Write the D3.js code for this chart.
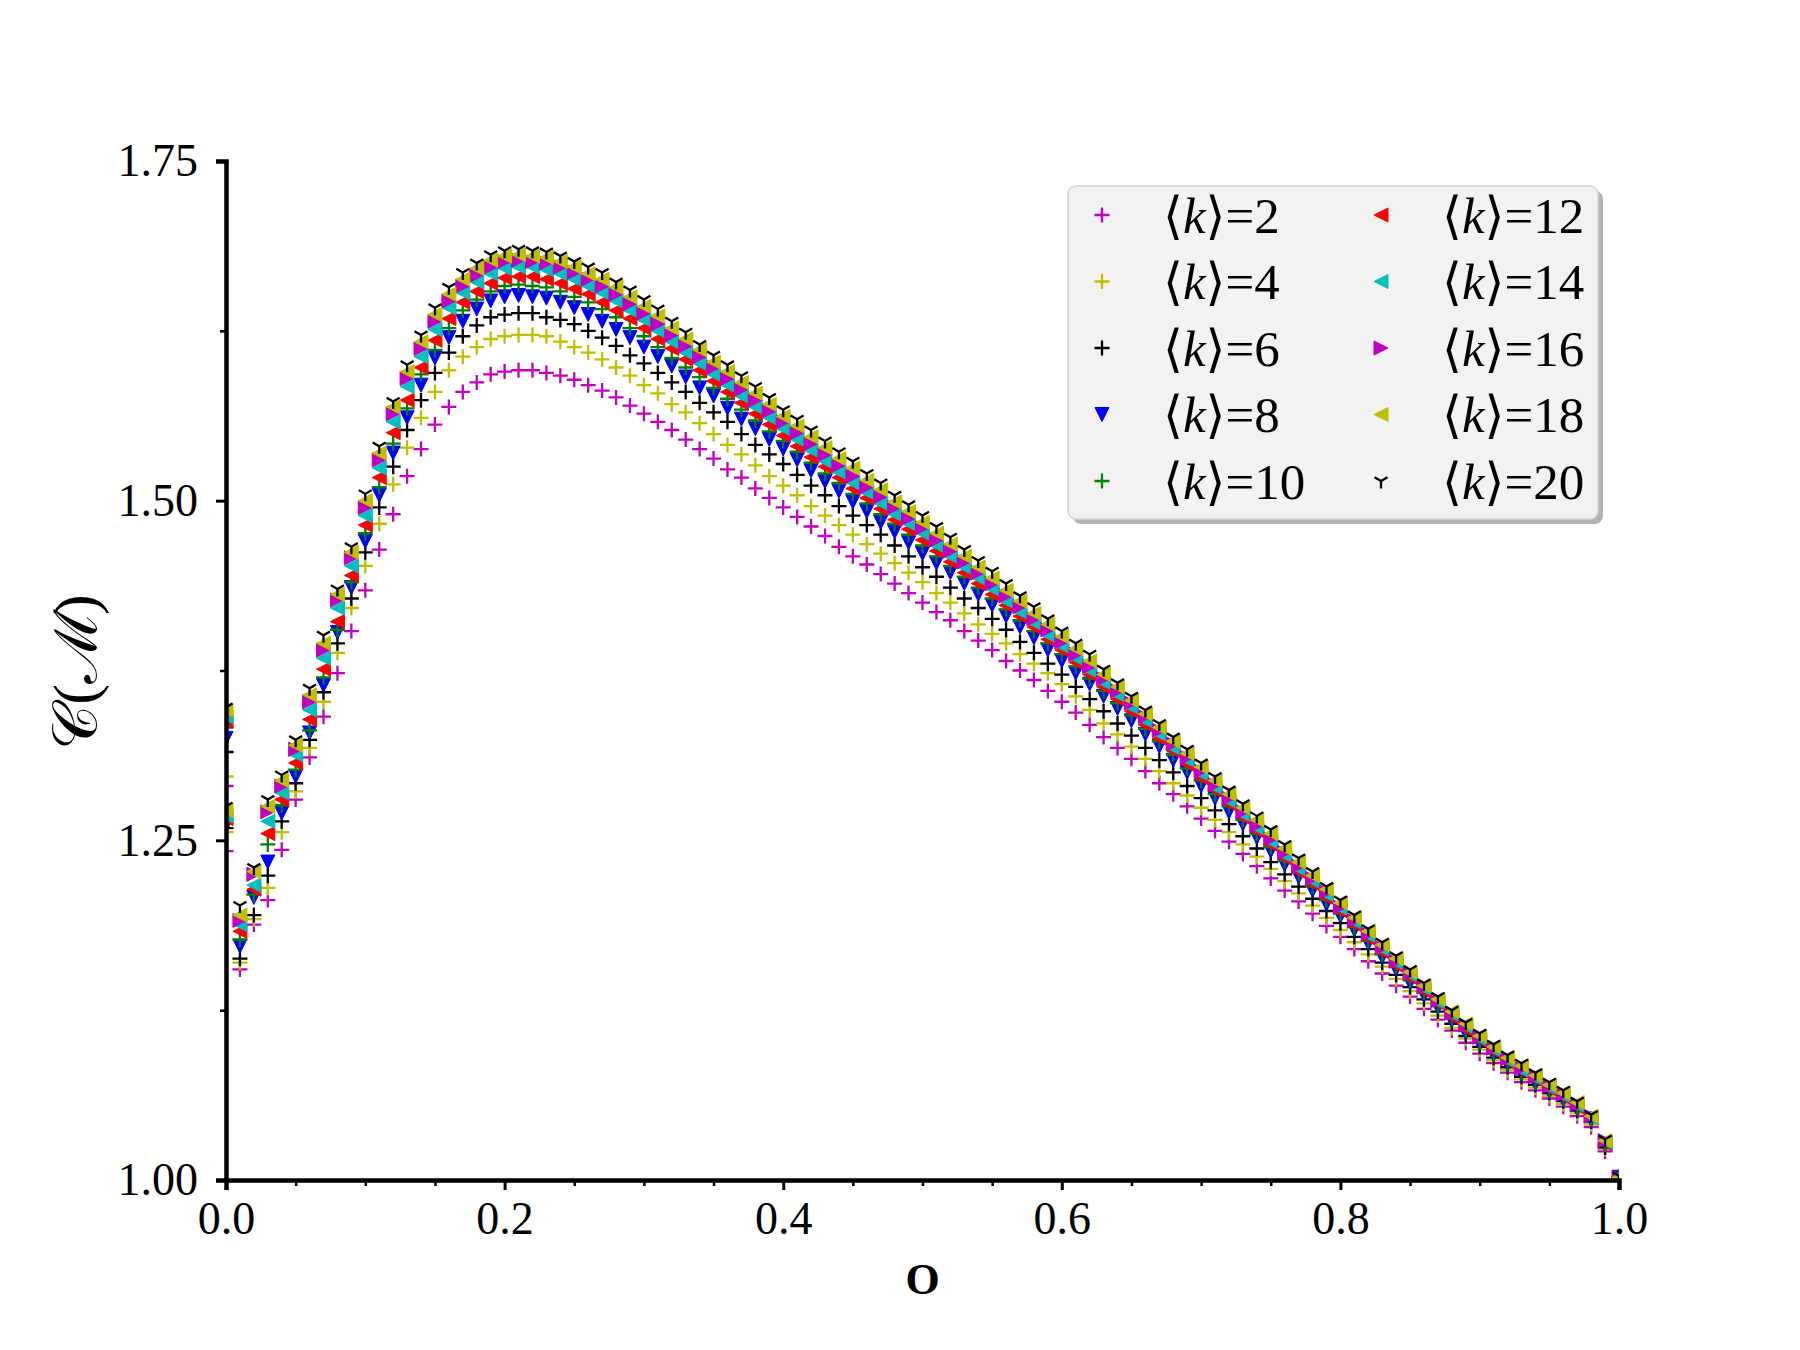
<!DOCTYPE html>
<html>
<head>
<meta charset="utf-8">
<script src="https://cdnjs.cloudflare.com/ajax/libs/d3/7.8.5/d3.min.js"></script>
<style>
body{margin:0;background:#fff;}
svg{display:block;}
text{font-family:"Liberation Serif","DejaVu Serif",serif;fill:#000;}
</style>
</head>
<body>
<script>
// two readings sit on o=0, then one every 0.01
var xs = [0,0,
  0.01,0.02,0.03,0.04,0.05,0.06,0.07,0.08,0.09,0.10,
  0.11,0.12,0.13,0.14,0.15,0.16,0.17,0.18,0.19,0.20,
  0.21,0.22,0.23,0.24,0.25,0.26,0.27,0.28,0.29,0.30,
  0.31,0.32,0.33,0.34,0.35,0.36,0.37,0.38,0.39,0.40,
  0.41,0.42,0.43,0.44,0.45,0.46,0.47,0.48,0.49,0.50,
  0.51,0.52,0.53,0.54,0.55,0.56,0.57,0.58,0.59,0.60,
  0.61,0.62,0.63,0.64,0.65,0.66,0.67,0.68,0.69,0.70,
  0.71,0.72,0.73,0.74,0.75,0.76,0.77,0.78,0.79,0.80,
  0.81,0.82,0.83,0.84,0.85,0.86,0.87,0.88,0.89,0.90,
  0.91,0.92,0.93,0.94,0.95,0.96,0.97,0.98,0.99,1.00];

var k2 = [1.290,1.242,
  1.155,1.188,1.206,1.243,1.280,1.311,1.341,1.373,1.404,1.434,
  1.464,1.490,1.518,1.538,1.556,1.569,1.580,1.587,1.593,1.595,
  1.596,1.596,1.594,1.592,1.589,1.585,1.581,1.576,1.570,1.564,
  1.558,1.552,1.545,1.538,1.531,1.523,1.517,1.509,1.502,1.495,
  1.488,1.481,1.474,1.466,1.459,1.453,1.446,1.439,1.432,1.425,
  1.418,1.412,1.404,1.397,1.390,1.382,1.375,1.368,1.360,1.352,
  1.344,1.335,1.326,1.318,1.310,1.301,1.292,1.284,1.275,1.266,
  1.257,1.249,1.240,1.231,1.222,1.213,1.205,1.196,1.187,1.179,
  1.170,1.161,1.152,1.143,1.135,1.126,1.118,1.110,1.101,1.093,
  1.086,1.079,1.072,1.066,1.060,1.054,1.047,1.039,1.021,1.001];

var k4 = [1.297,1.256,
  1.160,1.192,1.215,1.256,1.286,1.318,1.352,1.388,1.421,1.452,
  1.483,1.512,1.539,1.561,1.580,1.596,1.606,1.613,1.619,1.621,
  1.622,1.622,1.621,1.617,1.613,1.609,1.604,1.598,1.592,1.585,
  1.579,1.571,1.565,1.557,1.549,1.541,1.534,1.526,1.518,1.511,
  1.504,1.496,1.489,1.482,1.475,1.468,1.461,1.454,1.447,1.440,
  1.432,1.425,1.417,1.409,1.402,1.395,1.387,1.380,1.373,1.365,
  1.356,1.346,1.336,1.328,1.319,1.310,1.301,1.292,1.283,1.274,
  1.265,1.256,1.247,1.238,1.229,1.220,1.211,1.202,1.193,1.184,
  1.175,1.166,1.157,1.148,1.139,1.130,1.121,1.112,1.104,1.096,
  1.088,1.081,1.074,1.068,1.062,1.056,1.049,1.041,1.023,1.002];

var k6 = [1.315,1.259,
  1.163,1.195,1.224,1.264,1.292,1.324,1.359,1.395,1.428,1.462,
  1.495,1.525,1.552,1.574,1.594,1.609,1.621,1.629,1.635,1.637,
  1.638,1.638,1.635,1.633,1.630,1.625,1.620,1.614,1.607,1.601,
  1.594,1.587,1.580,1.572,1.565,1.558,1.549,1.541,1.534,1.527,
  1.519,1.511,1.504,1.496,1.489,1.482,1.475,1.467,1.459,1.451,
  1.444,1.436,1.428,1.421,1.413,1.405,1.396,1.388,1.380,1.372,
  1.363,1.354,1.345,1.336,1.327,1.318,1.309,1.300,1.290,1.281,
  1.272,1.262,1.253,1.244,1.234,1.225,1.216,1.207,1.198,1.189,
  1.179,1.170,1.160,1.151,1.142,1.133,1.124,1.115,1.106,1.098,
  1.090,1.083,1.076,1.070,1.064,1.058,1.051,1.043,1.024,1.002];

var k8 = [1.325,1.261,
  1.172,1.208,1.234,1.270,1.297,1.329,1.364,1.403,1.436,1.470,
  1.504,1.535,1.561,1.585,1.605,1.620,1.632,1.641,1.647,1.650,
  1.651,1.650,1.649,1.646,1.642,1.637,1.632,1.626,1.620,1.613,
  1.606,1.599,1.591,1.583,1.577,1.568,1.560,1.553,1.545,1.538,
  1.530,1.522,1.514,1.507,1.499,1.492,1.484,1.477,1.469,1.461,
  1.454,1.447,1.439,1.431,1.423,1.415,1.407,1.399,1.390,1.382,
  1.373,1.365,1.356,1.347,1.338,1.328,1.319,1.309,1.300,1.290,
  1.281,1.271,1.262,1.252,1.242,1.232,1.223,1.213,1.203,1.194,
  1.184,1.174,1.164,1.155,1.145,1.136,1.127,1.117,1.108,1.100,
  1.092,1.085,1.078,1.071,1.065,1.059,1.052,1.044,1.026,1.002];

var k10 = [1.333,1.263,
  1.177,1.210,1.247,1.276,1.302,1.331,1.370,1.405,1.440,1.476,
  1.510,1.542,1.568,1.593,1.611,1.627,1.640,1.648,1.654,1.658,
  1.659,1.658,1.657,1.654,1.650,1.646,1.641,1.635,1.627,1.621,
  1.613,1.605,1.598,1.591,1.583,1.575,1.567,1.559,1.551,1.544,
  1.536,1.528,1.520,1.513,1.505,1.498,1.490,1.483,1.475,1.467,
  1.459,1.452,1.444,1.436,1.428,1.420,1.412,1.404,1.395,1.387,
  1.378,1.369,1.360,1.351,1.342,1.332,1.323,1.313,1.303,1.294,
  1.284,1.275,1.265,1.255,1.245,1.235,1.226,1.216,1.206,1.196,
  1.186,1.176,1.166,1.157,1.147,1.138,1.128,1.119,1.110,1.101,
  1.093,1.086,1.079,1.072,1.066,1.060,1.053,1.045,1.026,1.002];

var k12 = [1.338,1.266,
  1.183,1.214,1.255,1.280,1.307,1.339,1.376,1.411,1.445,1.482,
  1.517,1.550,1.574,1.598,1.618,1.634,1.646,1.654,1.660,1.664,
  1.665,1.665,1.663,1.660,1.656,1.652,1.646,1.640,1.634,1.627,
  1.619,1.612,1.604,1.596,1.588,1.580,1.572,1.564,1.556,1.548,
  1.540,1.532,1.525,1.517,1.509,1.502,1.494,1.486,1.479,1.471,
  1.463,1.455,1.447,1.439,1.431,1.423,1.415,1.407,1.398,1.390,
  1.381,1.372,1.363,1.354,1.345,1.335,1.325,1.316,1.306,1.296,
  1.287,1.277,1.267,1.257,1.247,1.237,1.227,1.218,1.208,1.198,
  1.188,1.178,1.168,1.158,1.149,1.139,1.130,1.120,1.111,1.103,
  1.095,1.087,1.080,1.074,1.067,1.061,1.054,1.046,1.027,1.002];

var k14 = [1.341,1.268,
  1.188,1.217,1.264,1.285,1.313,1.346,1.384,1.421,1.452,1.489,
  1.524,1.558,1.584,1.606,1.626,1.642,1.653,1.661,1.667,1.671,
  1.672,1.672,1.670,1.667,1.663,1.658,1.653,1.647,1.640,1.633,
  1.625,1.617,1.609,1.601,1.593,1.585,1.577,1.569,1.561,1.553,
  1.545,1.537,1.529,1.521,1.513,1.506,1.498,1.490,1.483,1.476,
  1.467,1.459,1.451,1.443,1.435,1.426,1.418,1.410,1.401,1.393,
  1.384,1.375,1.366,1.357,1.348,1.338,1.328,1.318,1.309,1.299,
  1.289,1.279,1.269,1.259,1.249,1.239,1.229,1.220,1.210,1.200,
  1.190,1.180,1.170,1.160,1.151,1.141,1.131,1.122,1.113,1.104,
  1.096,1.088,1.081,1.075,1.068,1.062,1.055,1.046,1.028,1.002];

var k16 = [1.344,1.270,
  1.191,1.225,1.271,1.290,1.317,1.352,1.390,1.427,1.458,1.495,
  1.530,1.564,1.590,1.612,1.632,1.647,1.658,1.666,1.672,1.676,
  1.677,1.676,1.675,1.672,1.668,1.663,1.658,1.652,1.645,1.638,
  1.630,1.622,1.614,1.606,1.598,1.590,1.582,1.574,1.566,1.558,
  1.550,1.542,1.534,1.526,1.518,1.510,1.503,1.495,1.487,1.480,
  1.471,1.463,1.455,1.447,1.439,1.430,1.422,1.413,1.405,1.396,
  1.387,1.378,1.369,1.360,1.351,1.341,1.331,1.321,1.311,1.301,
  1.291,1.281,1.271,1.261,1.251,1.241,1.231,1.222,1.212,1.201,
  1.191,1.181,1.171,1.161,1.152,1.142,1.132,1.123,1.114,1.105,
  1.097,1.089,1.082,1.076,1.069,1.063,1.056,1.047,1.029,1.002];

var k18 = [1.346,1.272,
  1.195,1.227,1.275,1.294,1.320,1.357,1.395,1.431,1.462,1.500,
  1.535,1.569,1.595,1.617,1.637,1.652,1.663,1.671,1.677,1.680,
  1.681,1.680,1.679,1.676,1.672,1.667,1.663,1.657,1.650,1.643,
  1.636,1.627,1.619,1.611,1.602,1.595,1.587,1.579,1.571,1.562,
  1.555,1.547,1.539,1.531,1.524,1.515,1.508,1.499,1.492,1.484,
  1.476,1.468,1.459,1.451,1.443,1.434,1.426,1.417,1.409,1.400,
  1.391,1.382,1.372,1.363,1.353,1.343,1.333,1.323,1.314,1.304,
  1.294,1.284,1.274,1.265,1.255,1.244,1.234,1.224,1.214,1.204,
  1.193,1.183,1.173,1.163,1.153,1.143,1.133,1.124,1.115,1.106,
  1.098,1.090,1.084,1.077,1.070,1.064,1.057,1.047,1.029,1.002];

var k20 = [1.348,1.275,
  1.202,1.230,1.280,1.298,1.324,1.362,1.401,1.435,1.466,1.505,
  1.540,1.573,1.600,1.622,1.642,1.657,1.668,1.675,1.681,1.684,
  1.685,1.684,1.683,1.680,1.676,1.672,1.668,1.661,1.655,1.648,
  1.641,1.632,1.624,1.615,1.607,1.600,1.592,1.584,1.576,1.567,
  1.560,1.552,1.544,1.536,1.529,1.520,1.513,1.504,1.497,1.489,
  1.481,1.473,1.464,1.456,1.448,1.439,1.430,1.422,1.413,1.404,
  1.395,1.387,1.376,1.366,1.356,1.346,1.336,1.326,1.317,1.307,
  1.297,1.287,1.277,1.268,1.258,1.247,1.237,1.227,1.216,1.206,
  1.195,1.185,1.175,1.165,1.155,1.145,1.135,1.125,1.116,1.108,
  1.100,1.092,1.086,1.079,1.072,1.066,1.058,1.048,1.030,1.003];

var kLabels = ['2','4','6','8','10','12','14','16','18','20'];
var colors = ['#bf00bf','#bfbf00','#000000','#0000ff','#008000','#ff0000','#00bfbf','#bf00bf','#bfbf00','#000000'];
var markers = ['plus','plus','plus','tv','plus','tl','tl','tr','tl','tri'];

var xTicks = [0,0.2,0.4,0.6,0.8,1.0];
var xMinor = [0.05,0.1,0.15,0.25,0.3,0.35,0.45,0.5,0.55,0.65,0.7,0.75,0.85,0.9,0.95];
var yTicks = [1.00,1.25,1.50,1.75];
var yMinor = [1.125,1.375,1.625];

var chart = {
  W: 1800, H: 1350,
  left: 226, right: 1619, top: 161, bottom: 1180,
  components: {},
  shapes: {
    plus: 'M-7.5,0H7.5M0,-7.5V7.5',
    tri: 'M0,0V7.5M0,0L-6.5,-3.75M0,0L6.5,-3.75',
    tv: 'M0,7L-7,-7L7,-7Z',
    tl: 'M-7,0L7,-7L7,7Z',
    tr: 'M7,0L-7,-7L-7,7Z'
  },
  series: function(){
    var vals = [k2,k4,k6,k8,k10,k12,k14,k16,k18,k20];
    return vals.map(function(v,i){
      return {
        label: kLabels[i], color: colors[i], marker: markers[i],
        points: xs.map(function(x,j){ return {x:x, y:v[j]}; })
      };
    });
  },
  styleMarker: function(sel, d){
    var filled = (d.marker!='plus' && d.marker!='tri');
    sel.attr('d', this.shapes[d.marker])
      .attr('fill', filled ? d.color : 'none')
      .attr('stroke', d.color)
      .attr('stroke-width', filled ? 1 : 2.3);
  },
  build: function(){
    this.x = d3.scaleLinear().domain([0,1]).range([this.left,this.right]);
    this.y = d3.scaleLinear().domain([1,1.75]).range([this.bottom,this.top]);
    var svg = d3.select('body').append('svg').attr('width',this.W).attr('height',this.H);
    svg.append('rect').attr('width',this.W).attr('height',this.H).attr('fill','#fff');
    svg.append('defs').append('clipPath').attr('id','plotClip')
      .append('rect').attr('x',this.left).attr('y',this.top)
      .attr('width',this.right-this.left).attr('height',this.bottom-this.top);
    this.components.svg = svg;
  },
  drawPoints: function(){
    var that = this;
    var g = this.components.svg.append('g').attr('clip-path','url(#plotClip)');
    var groups = g.selectAll('.series').data(this.series()).enter()
      .append('g').attr('class','series');
    groups.each(function(d){
      d3.select(this).selectAll('path').data(d.points).enter().append('path')
        .attr('transform', function(p){ return 'translate('+that.x(p.x)+','+that.y(p.y)+')'; })
        .each(function(){ that.styleMarker(d3.select(this), d); });
    });
  },
  drawAxes: function(){
    var svg = this.components.svg;
    var xMin = svg.append('g').attr('transform','translate(0,'+this.bottom+')')
      .call(d3.axisBottom(this.x).tickValues(xMinor).tickSize(6).tickFormat(''));
    var yMin = svg.append('g').attr('transform','translate('+this.left+',0)')
      .call(d3.axisLeft(this.y).tickValues(yMinor).tickSize(6).tickFormat(''));
    var xAx = svg.append('g').attr('transform','translate(0,'+this.bottom+')')
      .call(d3.axisBottom(this.x).tickValues(xTicks).tickSize(10).tickPadding(11)
        .tickFormat(d3.format('.1f')));
    var yAx = svg.append('g').attr('transform','translate('+this.left+',0)')
      .call(d3.axisLeft(this.y).tickValues(yTicks).tickSize(10).tickPadding(18)
        .tickFormat(d3.format('.2f')));
    [xMin,yMin].forEach(function(a){
      a.select('.domain').remove();
      a.selectAll('.tick line').attr('stroke','#000').attr('stroke-width',2.5);
    });
    [xAx,yAx].forEach(function(a){
      a.select('.domain').attr('stroke','#000').attr('stroke-width',4.5);
      a.selectAll('.tick line').attr('stroke','#000').attr('stroke-width',3);
      a.selectAll('.tick text').attr('font-family','"Liberation Serif",serif')
        .attr('font-size',46).attr('fill','#000');
    });
    // axis titles
    svg.append('text').attr('x',(this.left+this.right)/2).attr('y',1294)
      .attr('text-anchor','middle').attr('font-size',44).attr('font-weight','bold')
      .text('O');
    svg.append('text').attr('transform','translate(96,672) rotate(-90)')
      .attr('text-anchor','middle').attr('font-size',62)
      .attr('font-family','"DejaVu Serif",serif')
      .text('\uD835\uDC9E(\u2133)');
  },
  drawLegend: function(){
    var that = this;
    var svg = this.components.svg;
    var lg = svg.append('g').attr('id','legend');
    lg.append('rect').attr('x',1073).attr('y',191).attr('width',530).attr('height',333)
      .attr('rx',8).attr('fill','#b4b4b4');
    lg.append('rect').attr('x',1068).attr('y',186).attr('width',530).attr('height',333)
      .attr('rx',8).attr('fill','#f2f2f2').attr('stroke','#d4d4d4').attr('stroke-width',1.5);
    var items = lg.selectAll('.item').data(this.series()).enter().append('g')
      .attr('class','item')
      .attr('transform',function(d,i){
        var col = Math.floor(i/5), row = i%5;
        return 'translate('+(col ? 1381 : 1102)+','+(215+row*66.5)+')';
      });
    items.append('path').each(function(d){ that.styleMarker(d3.select(this), d); });
    var t = items.append('text').attr('x',61).attr('dy','0.35em').attr('font-size',51);
    t.append('tspan').text('\u27E8');
    t.append('tspan').attr('font-style','italic').text('k');
    t.append('tspan').text(function(d){ return '\u27E9=' + d.label; });
  }
};

chart.build();
chart.drawPoints();
chart.drawAxes();
chart.drawLegend();
</script>
</body>
</html>
